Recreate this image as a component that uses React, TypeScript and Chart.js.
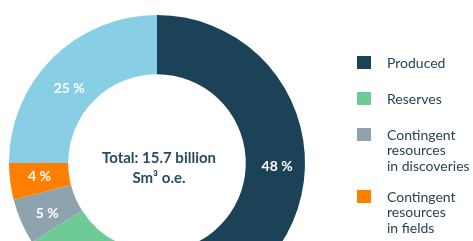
import React, { useEffect, useRef } from "react";
import { Chart, registerables } from "chart.js";

Chart.register(...registerables);

const categories: string[][] = [
  ["Produced"],
  ["Reserves"],
  ["Contingent", "resources", "in discoveries"],
  ["Contingent", "resources", "in fields"],
  ["Undiscovered", "resources"],
];
const shares: number[] = [48, 18, 5, 4, 25];
const colors: string[] = ["#1c4258", "#6fcb95", "#8fa3ae", "#ff7f00", "#88cfe6"];
const centerLines: string[] = ["Total: 15.7 billion", "Sm³ o.e."];
const hiddenLabels: number[] = [1];

const FONT = "Lato, 'Noto Sans', sans-serif";
// small visual nudges of the percentage labels relative to the arc centres
const labelNudge: [number, number][] = [
  [2, 11],
  [0, 0],
  [-1, 3],
  [0, -1],
  [-4, 9],
];

const overlayPlugin = {
  id: "overlay",
  afterDatasetsDraw(chart: any) {
    const ctx = chart.ctx;
    const meta = chart.getDatasetMeta(0);
    const first = meta.data[0];
    const cx = first.x;
    const cy = first.y;
    ctx.save();
    // slice labels
    ctx.fillStyle = "#ffffff";
    ctx.font = `bold 14px ${FONT}`;
    ctx.textAlign = "center";
    ctx.textBaseline = "middle";
    meta.data.forEach((arc: any, i: number) => {
      if (hiddenLabels.includes(i)) return;
      const p = arc.getCenterPoint();
      const [dx, dy] = labelNudge[i];
      ctx.fillText(`${shares[i]} %`, p.x + dx, p.y + dy);
    });
    // center text
    ctx.fillStyle = "#2a4a5e";
    ctx.font = `bold 15px ${FONT}`;
    ctx.fillText(centerLines[0], cx + 2, cy - 5);
    ctx.fillText(centerLines[1], cx + 2, cy + 15);
    // legend
    const lx = 357;
    let y = 63;
    const lineH = 15.5;
    categories.forEach((lines, i) => {
      ctx.fillStyle = colors[i];
      ctx.fillRect(lx, y - 7, 14, 13);
      ctx.fillStyle = "#2a4352";
      ctx.font = `400 14px ${FONT}`;
      ctx.textAlign = "left";
      lines.forEach((t, j) => {
        ctx.fillText(t, lx + 30, y + j * lineH);
      });
      y += (lines.length - 1) * lineH + (lines.length > 1 ? 31 : 36);
    });
    ctx.restore();
  },
};

export default function App() {
  const ref = useRef<HTMLCanvasElement | null>(null);
  useEffect(() => {
    if (!ref.current) return;
    const chart = new Chart(ref.current, {
      type: "doughnut",
      data: {
        labels: categories.map((c) => c.join(" ")),
        datasets: [
          {
            data: shares,
            backgroundColor: colors,
            borderWidth: 0,
          },
        ],
      },
      options: {
        animation: false,
        responsive: false,
        cutout: "60%",
        layout: { padding: { left: 9, top: 15, right: 168, bottom: 9 } },
        plugins: {
          legend: { display: false },
          tooltip: { enabled: false },
        },
      },
      plugins: [overlayPlugin],
    });
    return () => chart.destroy();
  }, []);
  return (
    <div
      style={{
        position: "fixed",
        left: 0,
        top: 0,
        width: 473,
        height: 241,
        overflow: "hidden",
        background: "#ffffff",
      }}
    >
      <canvas ref={ref} width={473} height={320} style={{ display: "block" }} />
    </div>
  );
}
